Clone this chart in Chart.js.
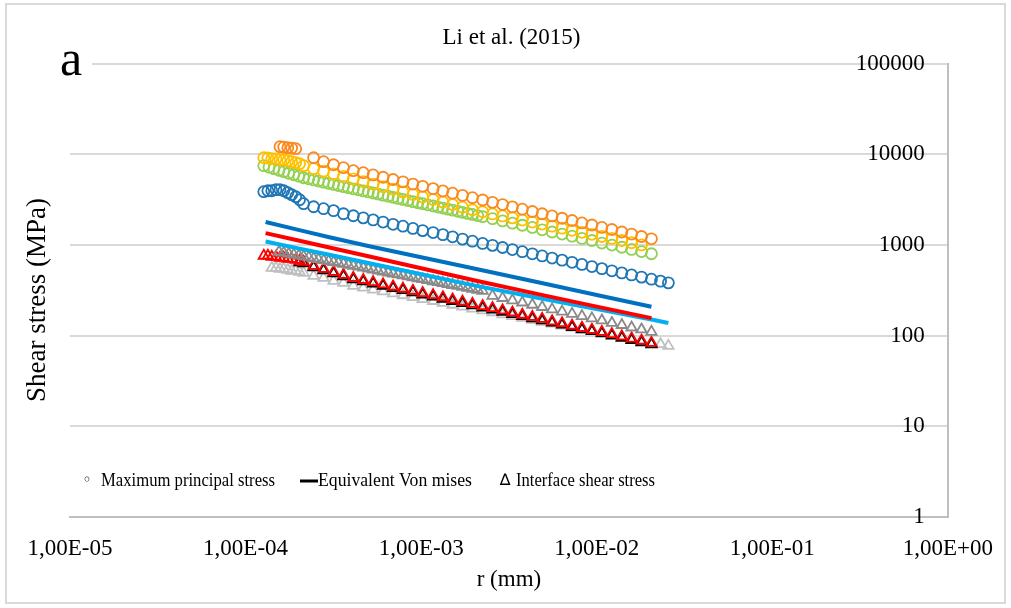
<!DOCTYPE html>
<html>
<head>
<meta charset="utf-8">
<script src="https://cdn.jsdelivr.net/npm/chart.js@4.4.1/dist/chart.umd.min.js"></script>
<style>
  html, body { margin: 0; padding: 0; background: #fff; }
  #wrap { width: 1011px; height: 608px; }
</style>
</head>
<body>
<div id="wrap"><canvas id="grafica" width="1011" height="608"></canvas></div>
<script>
// radios (mm) de los nodos
const rPoints = [1.27e-4, 1.34e-4, 1.41e-4, 1.49e-4, 1.57e-4, 1.65e-4, 1.74e-4, 1.83e-4, 1.93e-4, 2.03e-4, 2.14e-4,
  2.44e-4, 2.78e-4, 3.17e-4, 3.61e-4, 4.11e-4, 4.68e-4, 5.33e-4, 6.07e-4, 6.92e-4, 7.88e-4, 8.98e-4,
  1.02e-3, 1.17e-3, 1.33e-3, 1.51e-3, 1.72e-3, 1.96e-3, 2.24e-3, 2.55e-3, 2.91e-3, 3.31e-3, 3.77e-3,
  4.30e-3, 4.89e-3, 5.57e-3, 6.35e-3, 7.24e-3, 8.24e-3, 9.39e-3, 1.07e-2, 1.22e-2, 1.39e-2, 1.58e-2,
  1.80e-2, 2.05e-2, 2.31e-2, 2.56e-2];
const rDense = [1.27e-4, 1.36e-4, 1.45e-4, 1.55e-4, 1.65e-4, 1.76e-4, 1.88e-4, 2.01e-4, 2.14e-4, 2.29e-4,
  2.44e-4, 2.60e-4, 2.78e-4, 2.97e-4, 3.17e-4, 3.38e-4, 3.61e-4, 3.85e-4, 4.11e-4, 4.39e-4,
  4.68e-4, 5.00e-4, 5.33e-4, 5.69e-4, 6.07e-4, 6.49e-4, 6.92e-4, 7.39e-4, 7.88e-4, 8.42e-4,
  8.98e-4, 9.59e-4, 1.02e-3, 1.09e-3, 1.17e-3, 1.25e-3, 1.33e-3, 1.42e-3, 1.51e-3, 1.62e-3,
  1.72e-3, 1.84e-3, 1.96e-3, 2.10e-3, 2.24e-3,
  2.55e-3, 2.91e-3, 3.31e-3, 3.77e-3, 4.30e-3, 4.89e-3, 5.57e-3, 6.35e-3, 7.24e-3, 8.24e-3,
  9.39e-3, 1.07e-2, 1.22e-2, 1.39e-2, 1.58e-2, 1.80e-2, 2.05e-2];
const rLine = [1.30e-4, 2.0e-4, 3.0e-4, 5.0e-4, 1.0e-3, 2.0e-3, 5.0e-3, 1.0e-2, 2.05e-2, 2.56e-2];

// Maximum principal stress (circulos)
const maxOrange = [null, null, null, null, 12130, 12000, 11830, 11700, 11530, null, null,
  9160, 8280, 7670, 7110, 6590, 6270, 5920, 5580, 5270, 4970, 4690, 4430, 4180, 3940, 3720, 3520, 3320,
  3130, 2950, 2790, 2630, 2480, 2340, 2210, 2090, 1970, 1860, 1750, 1660, 1560, 1480, 1390, 1320,
  1240, 1170, null, null];
const maxYellow = [9170, 9100, 8940, 8900, 8720, 8700, 8500, 8290, 8080, 7880, 7490,
  6930, 6500, 6080, 5700, 5350, 5000, 4690, 4400, 4120, 3850, 3610, 3390, 3170, 2970, 2790, 2610, 2440,
  2320, 2200, 2090, 1990, 1880, 1790, 1700, 1610, 1530, 1450, 1380, 1310, 1240, 1180, 1120, 1060, 1000,
  null, null, null];
const maxGreen = [7480, 7200, 6930, 6670, 6430, 6180, 5950, 5730, 5510, 5360,
  5220, 5070, 4930, 4780, 4650, 4520, 4400, 4280, 4160, 4060,
  3940, 3840, 3740, 3640, 3540, 3450, 3350, 3260, 3180, 3090,
  3000, 2920, 2850, 2770, 2690, 2620, 2550, 2480, 2420, 2350,
  2290, 2230, 2170, 2110, 2050,
  1950, 1840, 1740, 1650, 1560, 1470, 1390, 1320, 1250, 1180, 1120, 1050, 998, 944, 893, 845, 800];
const maxBlue = [3870, 3960, 3960, 4070, 4070, 3960, 3770, 3580, 3400, 3150, 2850,
  2640, 2510, 2390, 2210, 2100, 1990, 1890, 1790, 1690, 1610, 1520, 1440, 1370, 1300, 1230, 1160, 1100,
  1040, 990, 938, 889, 843, 798, 757, 717, 680, 644, 610, 578, 548, 519, 492, 467, 442, 419, 399, 382];

// Equivalent Von mises (lineas)
const vmBlue = [1794, 1468, 1216, 975, 733, 551, 376, 281, 208, null];
const vmRed = [1349, 1118, 938, 750, 553, 408, 278, 209, 156, null];
const vmCyan = [1093, 917, 779, 633, 476, 358, 254, 196, 151, 138];

// Interface shear stress (triangulos)
const shearRed = [760, 760, 741, 741, 722, 722, 704, 704, 686, 669, 652,
  589, 546, 506, 469, 434, 411, 389, 368, 348, 330, 312, 295, 280, 265, 250, 237, 224,
  212, 201, 190, 180, 170, 161, 153, 144, 137, 129, 122, 116, 110, 104, 98.2, 92.9, 87.9, 83.2, null, null];
const shearBlack = [null, null, null, null, null, null, null, null, null, 644, 628,
  567, 526, 487, 452, 418, 396, 375, 354, 335, 318, 300, 284, 270, 255, 241, 228, 216,
  204, 194, 183, 173, 164, 155, 147, 139, 132, 124, 117, 112, 106, 100, 94.6, 89.5, 84.6, 80.1, null, null];
const shearLight = [null, null, 560, 560, 546, 546, 532, 519, 519, 506, 493,
  457, 434, 402, 382, 354, 338, 322, 307, 292, 279, 266, 253, 241, 230, 219, 209, 199,
  190, 181, 172, 164, 157, 149, 142, 136, 129, 123, 117, 112, 107, 102, 96.8, 92.3, 88.0, 83.8, 80.5, 77.2];
const shearGray = [null, null, null, 841, 822, 801, 783, 766, 748, 729,
  713, 697, 679, 664, 649, 634, 619, 604, 589, 576,
  561, 547, 535, 522, 510, 497, 484, 473, 462, 450,
  440, 429, 419, 409, 398, 389, 380, 370, 362, 353,
  345, 336, 328, 320, 312,
  275, 260, 245, 232, 219, 207, 195, 184, 174, 164, 155, 147, 138, 131, 123, 117, 110];

const xTickValues = [1e-5, 1e-4, 1e-3, 1e-2, 1e-1, 1];
const xTickLabels = ['1,00E-05', '1,00E-04', '1,00E-03', '1,00E-02', '1,00E-01', '1,00E+00'];
const yTickValues = [1, 10, 100, 1000, 10000, 100000];
const yTickLabels = ['1', '10', '100', '1000', '10000', '100000'];
const legendLabels = ['Maximum principal stress', 'Equivalent Von mises', 'Interface shear stress'];
const chartTitle = 'Li et al. (2015)';
const xTitle = 'r (mm)';
const yTitle = 'Shear stress (MPa)';
const panelLetter = 'a';

const serif = '"Liberation Serif", "Times New Roman", serif';

const toPoints = (xs, ys) => xs.map((x, i) => ({ x, y: ys[i] })).filter(p => p.y !== null);

const markers = (label, xs, ys, color, style, radius) => ({
    label,
    data: toPoints(xs, ys),
    showLine: false,
    pointStyle: style,
    pointRadius: radius,
    pointBorderWidth: 1.8,
    pointBorderColor: color,
    pointBackgroundColor: 'rgba(0,0,0,0)',
    borderColor: color
});

const line = (label, ys, color) => ({
    label,
    data: toPoints(rLine, ys),
    showLine: true,
    borderColor: color,
    borderWidth: 4,
    pointRadius: 0,
    tension: 0
});

const extras = {
    id: 'extras',
    afterDraw(chart) {
        const ctx = chart.ctx;
        ctx.save();
        // marco exterior
        ctx.strokeStyle = '#d9d9d9';
        ctx.lineWidth = 2;
        ctx.strokeRect(6, 4, 999, 599);

        // letra del panel
        ctx.fillStyle = '#fff';
        ctx.fillRect(57, 46, 35, 35);
        ctx.fillStyle = '#000';
        ctx.font = '50px ' + serif;
        ctx.textAlign = 'center';
        ctx.textBaseline = 'alphabetic';
        ctx.fillText(panelLetter, 71, 75);

        // titulo del eje y (a la izquierda)
        ctx.save();
        ctx.translate(38, 300);
        ctx.rotate(-Math.PI / 2);
        ctx.font = '27px ' + serif;
        ctx.textBaseline = 'middle';
        ctx.fillText(yTitle, 0, 0);
        ctx.restore();

        // leyenda
        const ly = 481;
        ctx.textBaseline = 'middle';
        ctx.textAlign = 'center';
        ctx.font = '16px "DejaVu Sans"';
        ctx.fillText('\u25E6', 87, ly);
        ctx.font = '16px "DejaVu Sans"';
        ctx.fillText('\u2206', 505, ly);
        ctx.strokeStyle = '#000';
        ctx.lineWidth = 3;
        ctx.beginPath();
        ctx.moveTo(300, ly);
        ctx.lineTo(318, ly);
        ctx.stroke();
        ctx.textAlign = 'left';
        ctx.font = '19px ' + serif;
        ctx.fillText(legendLabels[0], 101, ly, 174);
        ctx.fillText(legendLabels[1], 318, ly, 154);
        ctx.fillText(legendLabels[2], 516, ly, 139);
        ctx.restore();
    }
};

new Chart(document.getElementById('grafica'), {
    type: 'scatter',
    data: {
        datasets: [
            line('Equivalent Von mises 1', vmBlue, '#0070C0'),
            line('Equivalent Von mises 2', vmRed, '#FF0000'),
            line('Equivalent Von mises 3', vmCyan, '#00B0F0'),
            markers('Maximum principal stress 1', rPoints, maxOrange, '#FA8A1E', 'circle', 5.5),
            markers('Maximum principal stress 2', rPoints, maxYellow, '#FFC000', 'circle', 5.5),
            markers('Maximum principal stress 3', rDense, maxGreen, '#92D050', 'circle', 5.5),
            markers('Maximum principal stress 4', rPoints, maxBlue, '#1F77B4', 'circle', 5.5),
            markers('Interface shear stress 1', rDense, shearGray, '#8A8A8A', 'triangle', 6),
            markers('Interface shear stress 2', rPoints, shearRed, '#FF0000', 'triangle', 6),
            markers('Interface shear stress 3', rPoints, shearBlack, '#000000', 'triangle', 6),
            markers('Interface shear stress 4', rPoints, shearLight, '#C0C0C0', 'triangle', 6)
        ]
    },
    options: {
        responsive: false,
        animation: false,
        layout: { padding: { left: 70, right: 58, top: 0, bottom: 0 } },
        plugins: {
            legend: { display: false },
            tooltip: { enabled: false },
            title: {
                display: true,
                text: chartTitle,
                color: '#000',
                font: { family: serif, size: 23, weight: 'normal' },
                padding: { top: 24, bottom: 12 }
            }
        },
        scales: {
            x: {
                type: 'logarithmic',
                position: 'bottom',
                min: 1e-5,
                max: 1,
                afterBuildTicks: s => { s.ticks = xTickValues.map(value => ({ value })); },
                afterFit: s => { s.height = 91; },
                ticks: {
                    autoSkip: false,
                    maxRotation: 0,
                    padding: 18,
                    color: '#000',
                    font: { family: serif, size: 23 },
                    callback: (v, i) => xTickLabels[i]
                },
                grid: { display: false, drawTicks: false },
                border: { display: true, color: '#bfbfbf', width: 2 },
                title: {
                    display: true,
                    text: xTitle,
                    color: '#000',
                    font: { family: serif, size: 23 },
                    padding: { top: 0, bottom: 14 }
                }
            },
            y: {
                type: 'logarithmic',
                position: 'right',
                min: 1,
                max: 100000,
                afterBuildTicks: s => { s.ticks = yTickValues.map(value => ({ value })); },
                afterFit: s => { s.width = 0; },
                ticks: {
                    mirror: true,
                    padding: -23,
                    color: '#000',
                    font: { family: serif, size: 23 },
                    callback: (v, i) => yTickLabels[i]
                },
                grid: { color: '#d9d9d9', lineWidth: 2, drawTicks: false },
                border: { display: true, color: '#bfbfbf', width: 2 }
            }
        }
    },
    plugins: [extras]
});
</script>
</body>
</html>
